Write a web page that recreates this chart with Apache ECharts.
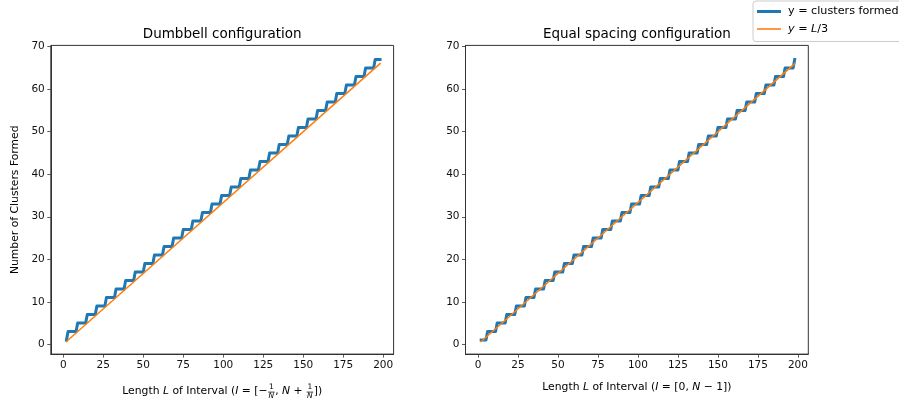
<!DOCTYPE html>
<html>
<head>
<meta charset="utf-8">
<script src="https://cdn.jsdelivr.net/npm/echarts@6/dist/echarts.min.js"></script>
<style>
html,body{margin:0;padding:0;background:#fff;}
#chart{width:899px;height:404px;}
</style>
</head>
<body>
<div id="chart"></div>
<script>
// ---- Data (corner points of the step curves) ----
const L_DUMBBELL = [2, 3,8, 9,14, 15,20, 21,26, 27,32, 33,38, 39,44, 45,50, 51,56, 57,62, 63,68, 69,74, 75,80, 81,86, 87,92, 93,98, 99,104, 105,110, 111,116, 117,122, 123,128, 129,134, 135,140, 141,146, 147,152, 153,158, 159,164, 165,170, 171,176, 177,182, 183,188, 189,194, 195,198];
const Y_DUMBBELL = [1, 3,3, 5,5, 7,7, 9,9, 11,11, 13,13, 15,15, 17,17, 19,19, 21,21, 23,23, 25,25, 27,27, 29,29, 31,31, 33,33, 35,35, 37,37, 39,39, 41,41, 43,43, 45,45, 47,47, 49,49, 51,51, 53,53, 55,55, 57,57, 59,59, 61,61, 63,63, 65,65, 67,67];
const L_EQUAL = [2, 5,6, 11,12, 17,18, 23,24, 29,30, 35,36, 41,42, 47,48, 53,54, 59,60, 65,66, 71,72, 77,78, 83,84, 89,90, 95,96, 101,102, 107,108, 113,114, 119,120, 125,126, 131,132, 137,138, 143,144, 149,150, 155,156, 161,162, 167,168, 173,174, 179,180, 185,186, 191,192, 197,198];
const Y_EQUAL = [1, 1,3, 3,5, 5,7, 7,9, 9,11, 11,13, 13,15, 15,17, 17,19, 19,21, 21,23, 23,25, 25,27, 27,29, 29,31, 31,33, 33,35, 35,37, 37,39, 39,41, 41,43, 43,45, 45,47, 47,49, 49,51, 51,53, 53,55, 55,57, 57,59, 59,61, 61,63, 63,65, 65,67];
const L_REF = [2, 198];
const Y_REF = [0.667, 66];
const X_TICKS = [0, 25, 50, 75, 100, 125, 150, 175, 200];
const Y_TICKS = [0, 10, 20, 30, 40, 50, 60, 70];

const NAME_CLUSTERS = 'y = clusters formed';
const NAME_REF = 'y = L/3';
const TITLES = ['Dumbbell configuration', 'Equal spacing configuration'];
const Y_LABEL = 'Number of Clusters Formed';

// ---- Layout ----
const FONT = '"DejaVu Sans", sans-serif';
const TICK_FS = 10.5, LABEL_FS = 10.8, TITLE_FS = 13.5, LEGEND_FS = 11.2, FRAC_FS = 7.5;
const GRID_W = 342.8, GRID_H = 308.7, GRID_TOP = 45.4;
const GRID_LEFTS = [50.8, 465.5];
const BLUE = '#1f77b4', ORANGE = '#ff7f0e', INK = '#000';

const pairs = (xs, ys) => xs.map((x, i) => [x, ys[i]]);

const ctx = document.createElement('canvas').getContext('2d');
function meas(t, size, it) {
  ctx.font = (it ? 'italic ' : '') + size + 'px ' + FONT;
  return ctx.measureText(t).width;
}
function txt(t, x, y, size, it, align) {
  return {type: 'text', x: x, y: y, silent: true,
    style: {text: t, font: (it ? 'italic ' : '') + size + 'px ' + FONT, fill: INK,
      align: align, verticalAlign: 'middle', textAlign: align, textVerticalAlign: 'middle'}};
}
function mathLabel(parts, cx, cy) {
  const items = []; let total = 0;
  parts.forEach(p => {
    if (p.frac) {
      const fw = Math.max(meas(p.frac[0], FRAC_FS, false), meas(p.frac[1], FRAC_FS, true)) + 2;
      items.push({frac: p.frac, w: fw}); total += fw;
    } else {
      const w = meas(p.t, LABEL_FS, p.it);
      items.push({t: p.t, it: p.it, w: w}); total += w;
    }
  });
  let x = cx - total / 2; const els = [];
  items.forEach(it => {
    if (it.frac) {
      els.push(txt(it.frac[0], x + it.w / 2, cy - 4.2, FRAC_FS, false, 'center'));
      els.push(txt(it.frac[1], x + it.w / 2, cy + 5, FRAC_FS, true, 'center'));
      els.push({type: 'line', silent: true, shape: {x1: x + 0.5, y1: cy + 0.6, x2: x + it.w - 0.5, y2: cy + 0.6},
        style: {stroke: INK, lineWidth: 0.7}});
    } else {
      els.push(txt(it.t, x, cy, LABEL_FS, it.it, 'left'));
    }
    x += it.w;
  });
  return els;
}

const grids = [], xAxes = [], yAxes = [];
GRID_LEFTS.forEach((left, i) => {
  grids.push({left: left, top: GRID_TOP, width: GRID_W, height: GRID_H, show: true,
    borderColor: '#333', borderWidth: 1, backgroundColor: 'transparent', containLabel: false});
  xAxes.push({type: 'value', gridIndex: i, min: -7.8, max: 206.5,
    axisLine: {show: true, onZero: false, lineStyle: {color: '#333', width: 1}},
    axisTick: {show: true, length: 3.5, inside: false, customValues: X_TICKS, lineStyle: {color: '#333', width: 0.8}},
    axisLabel: {show: true, customValues: X_TICKS, margin: 6, fontSize: TICK_FS, fontFamily: FONT, color: '#111'},
    splitLine: {show: false}});
  yAxes.push({type: 'value', gridIndex: i, min: -2.3, max: 70.3,
    axisLine: {show: true, onZero: false, lineStyle: {color: '#333', width: 1}},
    axisTick: {show: true, length: 3.5, inside: false, customValues: Y_TICKS, lineStyle: {color: '#333', width: 0.8}},
    axisLabel: {show: true, customValues: Y_TICKS, margin: 6, fontSize: TICK_FS, fontFamily: FONT, color: '#111'},
    splitLine: {show: false}});
});

const lineCommon = {type: 'line', symbol: 'none', showSymbol: false, animation: false, silent: true};
const series = [
  Object.assign({}, lineCommon, {name: NAME_CLUSTERS, xAxisIndex: 0, yAxisIndex: 0, data: pairs(L_DUMBBELL, Y_DUMBBELL),
    lineStyle: {color: BLUE, width: 3, cap: 'square', join: 'round'}, itemStyle: {color: BLUE}}),
  Object.assign({}, lineCommon, {name: NAME_REF, xAxisIndex: 0, yAxisIndex: 0, data: pairs(L_REF, Y_REF),
    lineStyle: {color: ORANGE, width: 1.6, cap: 'square', join: 'round'}, itemStyle: {color: ORANGE}}),
  Object.assign({}, lineCommon, {name: NAME_CLUSTERS, xAxisIndex: 1, yAxisIndex: 1, data: pairs(L_EQUAL, Y_EQUAL),
    lineStyle: {color: BLUE, width: 3, cap: 'square', join: 'round'}, itemStyle: {color: BLUE}}),
  Object.assign({}, lineCommon, {name: NAME_REF, xAxisIndex: 1, yAxisIndex: 1, data: pairs(L_REF, Y_REF),
    lineStyle: {color: ORANGE, width: 1.6, cap: 'square', join: 'round'}, itemStyle: {color: ORANGE}})
];

const centers = GRID_LEFTS.map(l => l + GRID_W / 2);
const graphicEls = [];
TITLES.forEach((t, i) => graphicEls.push(txt(t, centers[i], 34.5, TITLE_FS, false, 'center')));
const yl = txt(Y_LABEL, 15, GRID_TOP + GRID_H / 2, LABEL_FS, false, 'center');
yl.rotation = Math.PI / 2;
graphicEls.push(yl);
mathLabel([
  {t: 'Length '}, {t: 'L', it: true}, {t: ' of Interval ('}, {t: 'I', it: true}, {t: ' = [\u2212'},
  {frac: ['1', 'N']}, {t: ', '}, {t: 'N', it: true}, {t: ' + '}, {frac: ['1', 'N']}, {t: '])'}
], centers[0], 391.5).forEach(e => graphicEls.push(e));
mathLabel([
  {t: 'Length '}, {t: 'L', it: true}, {t: ' of Interval ('}, {t: 'I', it: true}, {t: ' = [0, '},
  {t: 'N', it: true}, {t: ' \u2212 1])'}
], centers[1], 387.5).forEach(e => graphicEls.push(e));

const chart = echarts.init(document.getElementById('chart'), null, {renderer: 'canvas'});
chart.setOption({
  animation: false,
  backgroundColor: '#fff',
  grid: grids,
  xAxis: xAxes,
  yAxis: yAxes,
  legend: {
    data: [
      {name: NAME_CLUSTERS, icon: 'path://M0,0H24V3H0Z', itemStyle: {color: BLUE}},
      {name: NAME_REF, icon: 'path://M0,0H24V1.6H0Z', itemStyle: {color: ORANGE}}
    ],
    orient: 'vertical', left: 753, top: 1,
    itemWidth: 24, itemHeight: 12, itemGap: 6.5,
    padding: [5, 14, 7, 4],
    symbolKeepAspect: true,
    borderColor: '#cccccc', borderWidth: 1, borderRadius: 3,
    backgroundColor: 'rgba(255,255,255,0.8)',
    selectedMode: false,
    formatter: function (name) { return name === NAME_REF ? '{i|y} = {i|L}/3' : name; },
    textStyle: {fontSize: LEGEND_FS, fontFamily: FONT, color: INK, padding: [0, 0, 0, 2],
      rich: {i: {fontStyle: 'italic', fontSize: LEGEND_FS, fontFamily: FONT, color: INK}}}
  },
  series: series,
  graphic: {elements: graphicEls}
});
</script>
</body>
</html>
